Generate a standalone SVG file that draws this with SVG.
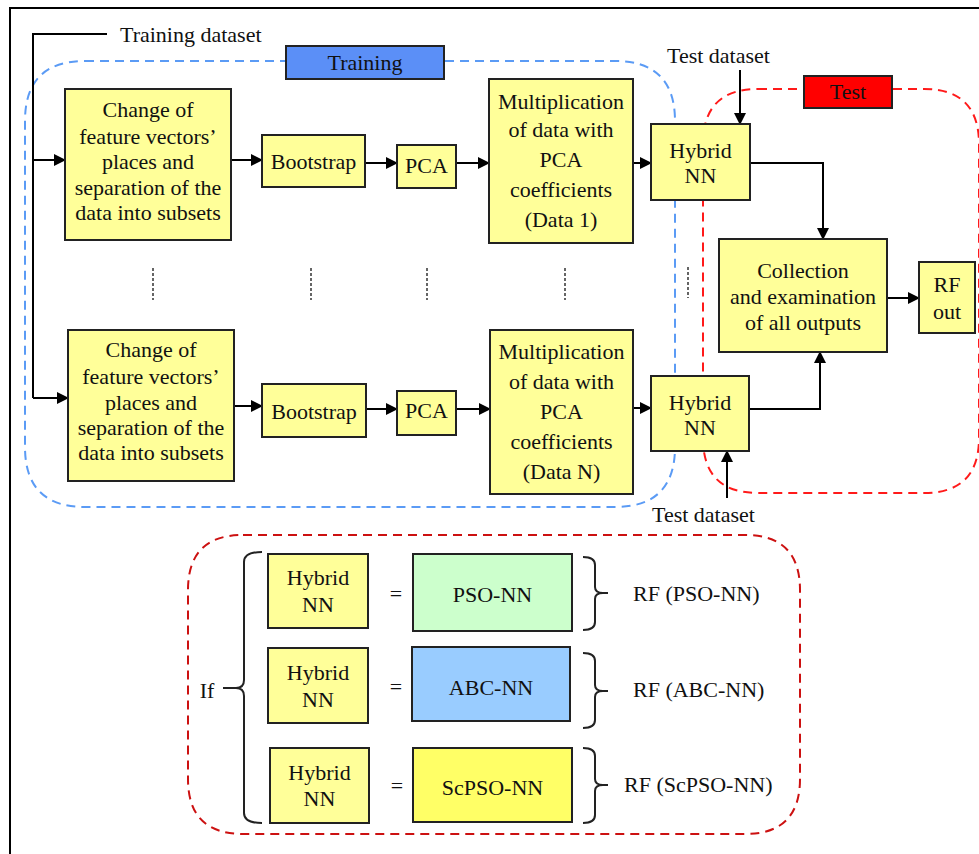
<svg xmlns="http://www.w3.org/2000/svg" width="979" height="854" viewBox="0 0 979 854">
<defs>
<marker id="arr" viewBox="0 0 12 12" refX="11" refY="6" markerWidth="12" markerHeight="12" markerUnits="userSpaceOnUse" orient="auto">
<path d="M0,0 L12,6 L0,12 Z" fill="#000"/>
</marker>
<style>
text{font-family:"Liberation Serif","Times New Roman",serif;font-size:22px;fill:#111;text-anchor:middle}
.l{text-anchor:start}
.box{fill:#ffff99;stroke:#222;stroke-width:2}
.con{fill:none;stroke:#000;stroke-width:2}
.arr{marker-end:url(#arr)}
.dots{stroke:#333;stroke-width:1.5;stroke-dasharray:3 2}
.brace{fill:none;stroke:#222;stroke-width:2}
</style>
</defs>
<rect width="979" height="854" fill="#fff"/>
<rect x="10" y="8" width="1000" height="900" fill="none" stroke="#000" stroke-width="2"/>

<g id="regions">
<path d="M85,61 H615 Q675,61 675,121 V447 Q675,507 615,507 H85 Q25,507 25,447 V121 Q25,61 85,61 Z" fill="none" stroke="#5b9bf5" stroke-width="2" stroke-dasharray="9 6"/>
<path d="M758,89 H924 Q979,89 979,144 V438 Q979,493 924,493 H758 Q703,493 703,438 V144 Q703,89 758,89 Z" fill="none" stroke="#ff1a1a" stroke-width="2" stroke-dasharray="9 6"/>
<path d="M243,535 H745 Q800,535 800,590 V779 Q800,834 745,834 H243 Q188,834 188,779 V590 Q188,535 243,535 Z" fill="none" stroke="#cc1111" stroke-width="2" stroke-dasharray="9 6"/>
</g>

<g id="label-training"><rect x="286" y="46" width="158" height="33" fill="#5b8ff7" stroke="#222" stroke-width="2"/><text x="365" y="70">Training</text></g>
<g id="label-test"><rect x="804" y="76" width="88" height="32" fill="#ff0000" stroke="#222" stroke-width="2"/><text x="848" y="99">Test</text></g>

<g id="connectors">
<polyline class="con" points="107,34 33,34 33,398"/>
<line class="con arr" x1="33" y1="160" x2="65" y2="160"/>
<line class="con arr" x1="33" y1="398" x2="68" y2="398"/>
<line class="con arr" x1="231" y1="160" x2="262" y2="160"/>
<line class="con arr" x1="365" y1="163" x2="397" y2="163"/>
<line class="con arr" x1="456" y1="163" x2="489" y2="163"/>
<line class="con arr" x1="633" y1="163" x2="651" y2="163"/>
<polyline class="con arr" points="750,163 823,163 823,239"/>
<line class="con arr" x1="740" y1="70" x2="740" y2="124"/>
<line class="con arr" x1="887" y1="298" x2="919" y2="298"/>
<line class="con arr" x1="234" y1="406" x2="262" y2="406"/>
<line class="con arr" x1="366" y1="409" x2="397" y2="409"/>
<line class="con arr" x1="456" y1="409" x2="490" y2="409"/>
<line class="con arr" x1="633" y1="408" x2="651" y2="408"/>
<polyline class="con arr" points="749,409 820,409 820,352"/>
<line class="con arr" x1="727" y1="498" x2="727" y2="451"/>
<line class="dots" x1="153" y1="268" x2="153" y2="300"/>
<line class="dots" x1="311" y1="268" x2="311" y2="300"/>
<line class="dots" x1="427" y1="268" x2="427" y2="300"/>
<line class="dots" x1="565" y1="268" x2="565" y2="300"/>
<line class="dots" x1="688" y1="267" x2="688" y2="298"/>
</g>

<g id="training-dataset"><text class="l" x="120" y="42">Training dataset</text></g>
<g id="test-dataset-top"><text class="l" x="667" y="63">Test dataset</text></g>
<g id="test-dataset-bottom"><text class="l" x="652" y="522">Test dataset</text></g>

<g id="change1"><rect class="box" x="65" y="89" width="166" height="151"/>
<text x="148" y="117">Change of</text><text x="148" y="144">feature vectors’</text><text x="148" y="169">places and</text><text x="148" y="195">separation of the</text><text x="148" y="220">data into subsets</text></g>
<g id="bootstrap1"><rect class="box" x="262" y="135" width="103" height="52"/><text x="313.5" y="169">Bootstrap</text></g>
<g id="pca1"><rect class="box" x="397" y="145" width="59" height="43"/><text x="426.5" y="173">PCA</text></g>
<g id="mult1"><rect class="box" x="489" y="79" width="144" height="164"/>
<text x="561" y="109">Multiplication</text><text x="561" y="137">of data with</text><text x="561" y="167">PCA</text><text x="561" y="197">coefficients</text><text x="561" y="227">(Data 1)</text></g>
<g id="hybrid1"><rect class="box" x="651" y="124" width="99" height="76"/><text x="700.5" y="158">Hybrid</text><text x="700.5" y="183">NN</text></g>

<g id="change2"><rect class="box" x="68" y="330" width="166" height="151"/>
<text x="151" y="357">Change of</text><text x="151" y="384">feature vectors’</text><text x="151" y="410">places and</text><text x="151" y="435">separation of the</text><text x="151" y="460">data into subsets</text></g>
<g id="bootstrap2"><rect class="box" x="262" y="384" width="104" height="53"/><text x="314" y="419">Bootstrap</text></g>
<g id="pca2"><rect class="box" x="397" y="391" width="59" height="44"/><text x="426.5" y="418">PCA</text></g>
<g id="mult2"><rect class="box" x="490" y="330" width="143" height="164"/>
<text x="561.5" y="359">Multiplication</text><text x="561.5" y="389">of data with</text><text x="561.5" y="419">PCA</text><text x="561.5" y="449">coefficients</text><text x="561.5" y="479">(Data N)</text></g>
<g id="hybrid2"><rect class="box" x="651" y="376" width="98" height="75"/><text x="700" y="410">Hybrid</text><text x="700" y="435">NN</text></g>

<g id="collection"><rect class="box" x="719" y="239" width="168" height="113"/>
<text x="803" y="278">Collection</text><text x="803" y="304">and examination</text><text x="803" y="330">of all outputs</text></g>
<g id="rfout"><rect class="box" x="919" y="262" width="56" height="71"/><text x="947" y="292">RF</text><text x="947" y="319">out</text></g>

<g id="legend">
<text x="207" y="698">If</text>
<line class="brace" x1="223" y1="688" x2="237" y2="688"/>
<path class="brace" d="M262,552 Q244,552 244,562 V680 Q244,688 236,688 Q244,688 244,696 V813 Q244,823 262,823"/>
<g id="lh1"><rect class="box" x="268" y="554" width="100" height="74"/><text x="318" y="585">Hybrid</text><text x="318" y="612">NN</text></g>
<g id="lh2"><rect class="box" x="268" y="648" width="100" height="75"/><text x="318" y="680">Hybrid</text><text x="318" y="707">NN</text></g>
<g id="lh3"><rect class="box" x="270" y="748" width="99" height="75"/><text x="319.5" y="780">Hybrid</text><text x="319.5" y="806">NN</text></g>
<text x="396" y="601" fill="#555">=</text>
<text x="396" y="694" fill="#555">=</text>
<text x="397" y="793" fill="#555">=</text>
<g id="pso"><rect x="413" y="554" width="159" height="77" fill="#ccffcc" stroke="#222" stroke-width="2"/><text x="492.5" y="602">PSO-NN</text></g>
<g id="abc"><rect x="412" y="647" width="158" height="74" fill="#99ccff" stroke="#222" stroke-width="2"/><text x="491" y="695">ABC-NN</text></g>
<g id="scpso"><rect x="413" y="748" width="159" height="74" fill="#ffff66" stroke="#222" stroke-width="2"/><text x="492.5" y="795">ScPSO-NN</text></g>
<path class="brace" d="M583,557 Q595,557 595,565 V587 Q595,593 603,593 H608 M603,593 Q595,593 595,599 V622 Q595,630 583,630"/>
<path class="brace" d="M583,653 Q595,653 595,661 V685 Q595,691 603,691 H608 M603,691 Q595,691 595,697 V720 Q595,728 583,728"/>
<path class="brace" d="M583,748 Q595,748 595,756 V779 Q595,785 603,785 H608 M603,785 Q595,785 595,791 V815 Q595,823 583,823"/>
<text class="l" x="633" y="601">RF (PSO-NN)</text>
<text class="l" x="633" y="697">RF (ABC-NN)</text>
<text class="l" x="624" y="792">RF (ScPSO-NN)</text>
</g>
</svg>
